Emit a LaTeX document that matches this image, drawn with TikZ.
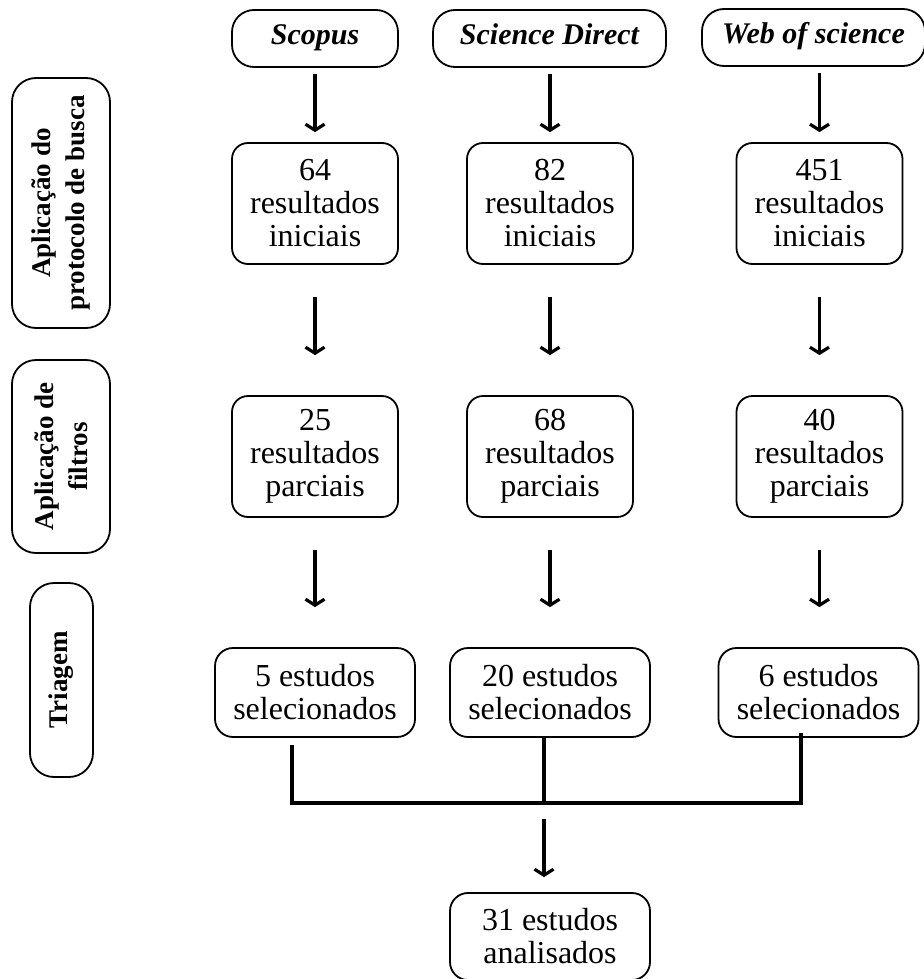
\documentclass[tikz,border=0pt]{standalone}
\usepackage{fontspec}
\setmainfont{Liberation Serif}
\usetikzlibrary{positioning,arrows.meta,calc}
\tikzset{
    base/.style={font=\fontsize{16}{16.5}\selectfont, align=center, draw, line width=0.9pt, inner sep=0pt},
    source/.style={base, rounded corners=11pt, minimum height=28.5pt,
                   font=\fontsize{15}{16}\selectfont\bfseries\itshape,
                   execute at begin node=\strut},
    result/.style={base, rounded corners=8pt, minimum width=83pt, minimum height=60.5pt},
    chosen/.style={base, rounded corners=9pt, minimum width=100pt, minimum height=44.5pt},
    stage/.style={base, rotate=90, rounded corners=12pt,
                  font=\fontsize{13.5}{17}\selectfont\bfseries},
    flow/.style={-{Straight Barb[length=3pt,width=9.5pt]}, line width=1.6pt},
    link/.style={line width=1.6pt}
}

\begin{document}
\begin{tikzpicture}[x=0.5pt, y=-0.5pt]
    \useasboundingbox (0,0) rectangle (923,979);

    % Bases de dados
    \node[source, minimum width=83pt] (scopus) at (315,38.5) {Scopus};
    \node[source, minimum width=116.5pt] (direct) at (549.5,38.5) {Science Direct};
    \node[source, minimum width=111.5pt] (wos) at (813.5,37.5) {Web of science};

    % Etapas (lateral)
    \node[stage, minimum width=125pt, minimum height=49pt] (busca) at (61,203) {Aplicação do\\protocolo de busca};
    \node[stage, minimum width=96.5pt, minimum height=49pt] (filtros) at (61,456.5) {Aplicação de\\filtros};
    \node[stage, minimum width=97pt, minimum height=31.5pt] (triagem) at (61.5,680) {Triagem};

    % Resultados iniciais
    \node[result] (ini1) at (315,203.5) {64\\resultados\\iniciais};
    \node[result] (ini2) at (550,203.5) {82\\resultados\\iniciais};
    \node[result] (ini3) at (819.5,203.5) {451\\resultados\\iniciais};

    % Resultados parciais
    \node[result] (par1) at (315,456.5) {25\\resultados\\parciais};
    \node[result] (par2) at (550,456.5) {68\\resultados\\parciais};
    \node[result] (par3) at (819.5,456.5) {40\\resultados\\parciais};

    % Estudos selecionados
    \node[chosen] (sel1) at (315,692.5) {5 estudos\\selecionados};
    \node[chosen] (sel2) at (550,692.5) {20 estudos\\selecionados};
    \node[chosen] (sel3) at (818.5,692.5) {6 estudos\\selecionados};

    \node[chosen, minimum height=43.5pt] (final) at (550,936.5) {31 estudos\\analisados};

    % Setas
    \foreach \a/\b in {scopus/ini1, direct/ini2, wos/ini3}
        \draw[flow, shorten <=3pt, shorten >=5pt] (\b.north |- \a.south) -- (\b.north);
    \foreach \a/\b in {ini1/par1, ini2/par2, ini3/par3}
        \draw[flow, shorten <=16pt, shorten >=20pt] (\a.south) -- (\a.south |- \b.north);
    \foreach \a/\b in {par1/sel1, par2/sel2, par3/sel3}
        \draw[flow, shorten <=16pt, shorten >=20pt] (\a.south) -- (\a.south |- \b.north);

    % Juncao
    \coordinate (join) at ($(sel2.south)+(-6,65)$);
    \draw[link] ($(sel1.south)+(-23,7)$) |- (join) -| ($(sel3.south)+(-17.5,-5)$);
    \draw[link] ($(sel2.south)+(-6,0)$) -- (join);
    \draw[flow] ($(join)+(0,16)$) -- ($(final.north)+(-6,-15)$);
\end{tikzpicture}
\end{document}
